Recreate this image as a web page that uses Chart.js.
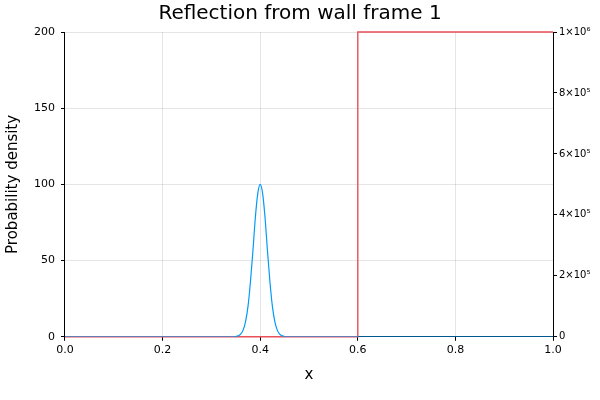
<!DOCTYPE html>
<html><head><meta charset="utf-8">
<script src="https://cdn.jsdelivr.net/npm/chart.js@4"></script>
<style>body{margin:0;background:#fff}#wrap{width:600px;height:400px}</style>
</head><body><div id="wrap"><canvas id="c"></canvas></div>
<script>
'use strict';

// wave packet |psi|^2
const packetX = [0, 0.34, 0.35, 0.355, 0.36, 0.365, 0.37, 0.375, 0.38, 0.385, 0.39, 0.395, 0.40,
  0.405, 0.41, 0.415, 0.42, 0.425, 0.43, 0.435, 0.44, 0.445, 0.45, 0.46, 1];
const packetVals = [0, 0, 0.2, 0.6, 1.7, 4.4, 10, 20, 36, 56, 78, 94, 100,
  94, 78, 56, 36, 20, 10, 4.4, 1.7, 0.6, 0.2, 0, 0];
// potential wall
const wallX = [0, 0.6, 0.6, 1];
const wallY = [0, 0, 1e6, 1e6];

const xTicks = [0, 0.2, 0.4, 0.6, 0.8, 1.0];
const leftTicks = [0, 50, 100, 150, 200];
const rightTicks = [0, 2e5, 4e5, 6e5, 8e5, 1e6];

const sup = {'0':'⁰','1':'¹','2':'²','3':'³','4':'⁴','5':'⁵','6':'⁶','7':'⁷','8':'⁸','9':'⁹'};
const sci = v => {
  if (v === 0) return '0';
  const e = Math.floor(Math.log10(v) + 1e-9);
  const m = Math.round(v / Math.pow(10, e));
  return m + '×10' + String(e).split('').map(c => sup[c]).join('');
};

Chart.defaults.font.family = 'DejaVu Sans';
Chart.defaults.color = '#000';

new Chart(document.getElementById('c'), {
  type: 'scatter',
  data: {
    datasets: [{
      data: packetX.map((x, i) => ({ x, y: packetVals[i] })),
      showLine: true, borderColor: '#009af9', borderWidth: 1.2, pointRadius: 0,
      cubicInterpolationMode: 'monotone', yAxisID: 'y'
    }, {
      data: wallX.map((x, i) => ({ x, y: wallY[i] })),
      showLine: true, borderColor: '#e8505a', borderWidth: 1.4, pointRadius: 0,
      yAxisID: 'y2', clip: 2
    }]
  },
  options: {
    responsive: true, maintainAspectRatio: false, animation: false,
    layout: { padding: { left: 0, right: 0, top: 0, bottom: 12 } },
    plugins: {
      legend: { display: false },
      tooltip: { enabled: false },
      title: { display: true, text: 'Reflection from wall frame 1',
        font: { size: 20, weight: 'normal' }, padding: { top: 2, bottom: 6 } }
    },
    scales: {
      x: {
        type: 'linear', min: 0, max: 1,
        afterBuildTicks: a => { a.ticks = xTicks.map(value => ({ value })); },
        ticks: { font: { size: 11 }, callback: v => v.toFixed(1), maxRotation: 0 },
        grid: { color: 'rgba(0,0,0,0.1)', tickColor: '#000', tickLength: 4 },
        border: { color: '#000' },
        title: { display: true, text: 'x', font: { size: 15 }, padding: { top: 6 } }
      },
      y: {
        position: 'left', min: 0, max: 200,
        afterBuildTicks: a => { a.ticks = leftTicks.map(value => ({ value })); },
        ticks: { font: { size: 11 }, padding: 6 },
        grid: { color: 'rgba(0,0,0,0.1)', tickColor: '#000', tickLength: 4 },
        border: { color: '#000' },
        title: { display: true, text: 'Probability density', font: { size: 15 }, padding: { bottom: 6 } }
      },
      y2: {
        position: 'right', min: 0, max: 1e6,
        afterBuildTicks: a => { a.ticks = rightTicks.map(value => ({ value })); },
        ticks: { font: { size: 10 }, callback: v => sci(v), padding: 2 },
        grid: { drawOnChartArea: false, tickColor: '#000', tickLength: 4 },
        border: { color: '#000' },
        afterFit: a => { a.width = 47; }
      }
    }
  }
});
</script></body></html>
